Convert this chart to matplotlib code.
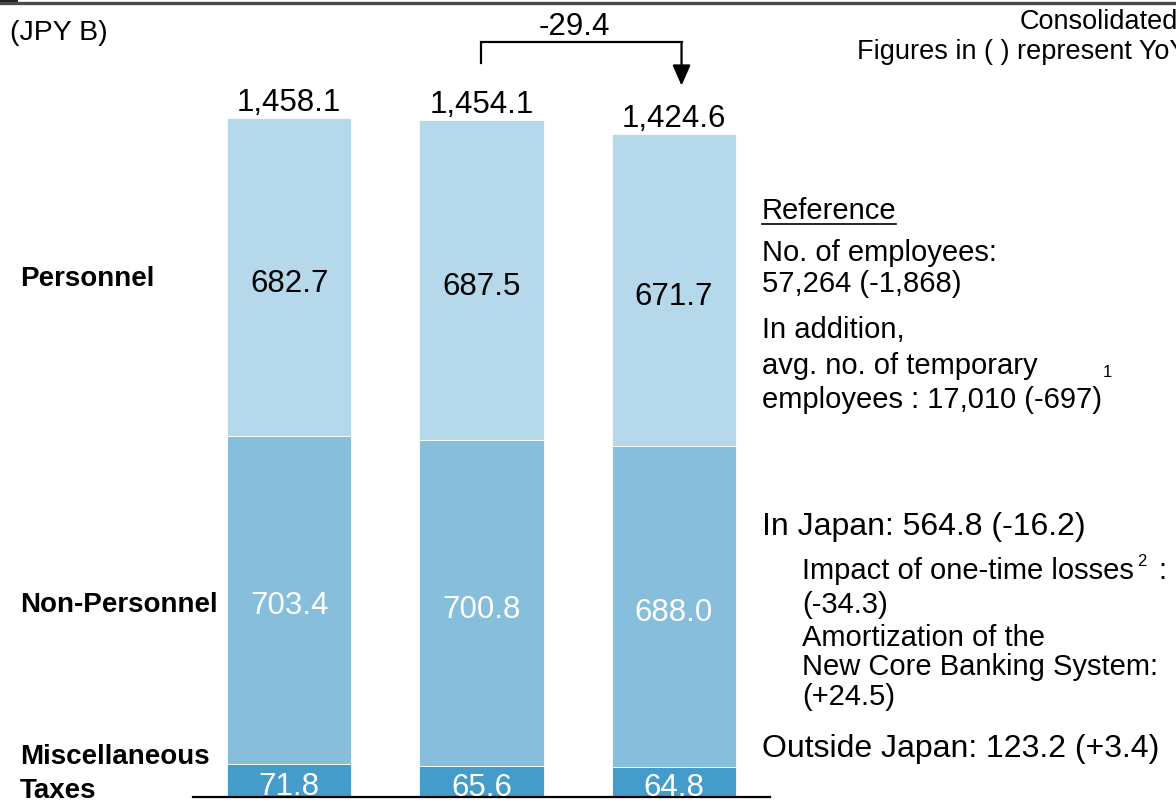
import matplotlib

matplotlib.use("Agg")
import matplotlib.pyplot as plt
from matplotlib.lines import Line2D
from matplotlib.patches import Rectangle

plt.rcParams["font.family"] = ["Liberation Sans", "DejaVu Sans"]

# expense breakdown, JPY B
periods = ["FY1", "FY2", "FY3"]
misc_taxes = [71.8, 65.6, 64.8]
non_personnel = [703.4, 700.8, 688.0]
personnel = [682.7, 687.5, 671.7]
totals = [1458.1, 1454.1, 1424.6]
change_label = "-29.4"

segment_names = ["Miscellaneous\nTaxes", "Non-Personnel", "Personnel"]
segment_colors = ["#439cc9", "#87bedb", "#b5d9ea"]
value_colors = ["white", "white", "black"]

W, H = 1176, 809
fig = plt.figure(figsize=(W / 100, H / 100), dpi=100)


def fx(px):
    return px / W


def fy(py):
    return 1 - py / H


ax = fig.add_axes([fx(193), fy(797), fx(770) - fx(193), 797 / H])
ax.set_xlim(-0.5, 2.5)
ax.set_ylim(0, 1711.4)
ax.axis("off")

xs = list(range(len(periods)))
bottom = [0.0] * len(periods)
for vals, color, tcolor in zip([misc_taxes, non_personnel, personnel], segment_colors, value_colors):
    ax.bar(xs, vals, width=0.645, bottom=bottom, color=color, edgecolor="white", linewidth=0.6)
    for x, v, b in zip(xs, vals, bottom):
        ax.annotate(f"{v:.1f}", (x, b + v / 2), xytext=(0, -10.5), textcoords="offset points",
                    ha="center", va="baseline", fontsize=22.5, color=tcolor)
    bottom = [b + v for b, v in zip(bottom, vals)]

for x, t in zip(xs, totals):
    ax.annotate(f"{t:,.1f}", (x, t), xytext=(0, 5), textcoords="offset points",
                ha="center", va="baseline", fontsize=22.5)

ax.axhline(0, xmin=0, xmax=1, color="black", linewidth=1.6, clip_on=False)

# bracket with arrow showing the year-on-year change
top_y = max(totals) + 163
arrow_x = 2.04
ax.plot([1, 1, arrow_x], [totals[1] + 122, top_y, top_y], color="black", linewidth=1.6,
        solid_joinstyle="miter", clip_on=False)
ax.annotate("", xy=(arrow_x, totals[2] + 103), xytext=(arrow_x, top_y),
            arrowprops=dict(arrowstyle="-|>,head_length=1.25,head_width=0.55", color="black",
                            linewidth=1.6, shrinkA=0, shrinkB=0))
ax.text(1.48, top_y + 32, change_label, ha="center", va="center", fontsize=22.5)

# left row labels
fig.text(fx(20), fy(757), "Miscellaneous", ha="left", va="center", fontsize=20, fontweight="bold")
fig.text(fx(20), fy(791), "Taxes", ha="left", va="center", fontsize=20, fontweight="bold")
fig.text(fx(20), fy(605), segment_names[1], ha="left", va="center", fontsize=20, fontweight="bold")
fig.text(fx(20), fy(279), segment_names[2], ha="left", va="center", fontsize=20, fontweight="bold")

# header
fig.add_artist(Line2D([0, 1], [fy(3), fy(3)], color="#4a4a4a", linewidth=2.4))
fig.add_artist(Rectangle((0, fy(5)), fx(18), 5 / H, color="#222222", linewidth=0))
fig.text(fx(10), fy(33), "(JPY B)", ha="left", va="center", fontsize=20.5)
fig.text(fx(1178), fy(22), "Consolidated", ha="right", va="center", fontsize=19.5)
fig.text(fx(857), fy(52), "Figures in ( ) represent YoY", ha="left", va="center", fontsize=19.5)

# notes on the right
fs = 21
fig.text(fx(762), fy(211), "Reference", ha="left", va="center", fontsize=fs)
fig.add_artist(Line2D([fx(762), fx(896)], [fy(224), fy(224)], color="black", linewidth=1.2))
fig.text(fx(762), fy(253), "No. of employees:", ha="left", va="center", fontsize=fs)
fig.text(fx(762), fy(284), "57,264 (-1,868)", ha="left", va="center", fontsize=fs)
fig.text(fx(762), fy(330), "In addition,", ha="left", va="center", fontsize=fs)
fig.text(fx(762), fy(366), "avg. no. of temporary", ha="left", va="center", fontsize=fs)
fig.text(fx(1103), fy(373), "1", ha="left", va="center", fontsize=12)
fig.text(fx(762), fy(400), "employees : 17,010 (-697)", ha="left", va="center", fontsize=fs)

fig.text(fx(762), fy(527), "In Japan: 564.8 (-16.2)", ha="left", va="center", fontsize=23)
fig.text(fx(802), fy(571), "Impact of one-time losses", ha="left", va="center", fontsize=fs)
fig.text(fx(1137), fy(561), "2", ha="left", va="center", fontsize=12)
fig.text(fx(1158), fy(571), ":", ha="left", va="center", fontsize=fs)
fig.text(fx(802), fy(605), "(-34.3)", ha="left", va="center", fontsize=fs)
fig.text(fx(802), fy(638), "Amortization of the", ha="left", va="center", fontsize=fs)
fig.text(fx(802), fy(667), "New Core Banking System:", ha="left", va="center", fontsize=fs)
fig.text(fx(802), fy(697), "(+24.5)", ha="left", va="center", fontsize=fs)
fig.text(fx(762), fy(749), "Outside Japan: 123.2 (+3.4)", ha="left", va="center", fontsize=23)

fig.savefig("out.png", dpi=100)
